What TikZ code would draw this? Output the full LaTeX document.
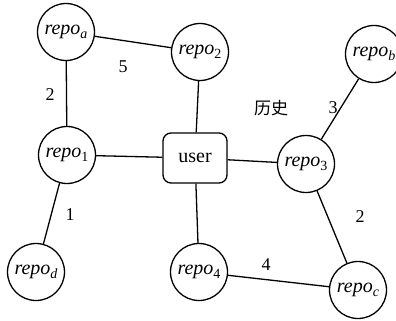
\documentclass[tikz,border=0pt]{standalone}
\usepackage{fontspec}
\setmainfont{Liberation Serif}
\newfontfamily\cjk{Noto Sans CJK SC}
\newcommand\rpo[1]{\textit{repo}\raisebox{-0.18em}{\fontsize{14}{14}\selectfont #1}}
\begin{document}
\begin{tikzpicture}[x=1pt,y=-1pt,
  repo/.style={circle,draw,line width=1.3pt,minimum size=57pt,inner sep=0pt,font=\fontsize{20}{22}\selectfont},
  userbox/.style={rectangle,rounded corners=8pt,draw,line width=1.3pt,minimum width=64pt,minimum height=50pt,inner sep=0pt,font=\fontsize{20}{22}\selectfont},
  edge/.style={line width=1.3pt},
  lbl/.style={font=\fontsize{18}{20}\selectfont,inner sep=0pt}]
\useasboundingbox (0,0) rectangle (396,321);
\node[repo] (ra) at (66,32) {\rpo{\textit{a}}};
\node[repo] (r2) at (200,52) {\rpo{2}};
\node[repo] (rb) at (374,54) {\rpo{\textit{b}}};
\node[repo] (r1) at (67,155) {\rpo{1}};
\node[userbox] (u) at (195,158) {user};
\node[repo] (r3) at (306,164) {\rpo{3}};
\node[repo] (rd) at (36,272) {\rpo{\textit{d}}};
\node[repo] (r4) at (199,272) {\rpo{4}};
\node[repo] (rc) at (358,290) {\rpo{\textit{c}}};
\draw[edge] (ra) -- (r2);
\draw[edge] (ra) -- (r1);
\draw[edge] (r2) -- (u);
\draw[edge] (r1) -- (u);
\draw[edge] (u) -- (r3);
\draw[edge] (u) -- (r4);
\draw[edge] (rb) -- (r3);
\draw[edge] (r1) -- (rd);
\draw[edge] (r3) -- (rc);
\draw[edge] (r4) -- (rc);
\node[lbl] (l5) at (123,67) {5};
\node[lbl] (l2a) at (50,95) {2};
\node[lbl] (l3) at (333,108) {3};
\node[lbl,font=\fontsize{17}{20}\selectfont\cjk] (hist) at (271,108) {历史};
\node[lbl] (l1) at (70,215) {1};
\node[lbl] (l2c) at (360,217) {2};
\node[lbl] (l4) at (266,265) {4};
\end{tikzpicture}
\end{document}
